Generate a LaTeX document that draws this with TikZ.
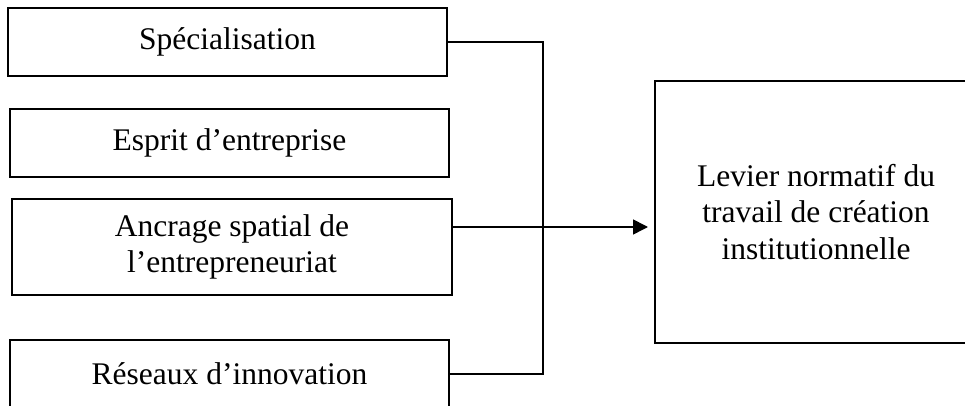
\documentclass[tikz,border=0pt]{standalone}
\usepackage{fontspec}
\setmainfont{Liberation Serif}
\usetikzlibrary{arrows.meta}
\begin{document}
\begin{tikzpicture}[y=0.50pt, x=0.50pt, yscale=-1.000000, xscale=1.000000, inner sep=0pt, outer sep=0pt,
  facteur/.style={draw=black, line width=0.800pt, minimum width=219.5pt, minimum height=34pt, align=center, font=\fontsize{15.75}{18.3}\selectfont},
  lien/.style={draw=black, line width=0.800pt, line join=miter}]
\useasboundingbox (0,0) rectangle (965,406);
\clip (0,0) rectangle (965,406);
  % facteurs
  \node[facteur] (specialisation) at (227.5,42) {Spécialisation};
  \node[facteur] (esprit) at (229.5,143) {Esprit d’entreprise};
  \node[facteur, minimum width=220pt, minimum height=48pt] (ancrage) at (232,247) {Ancrage spatial de\\l’entrepreneuriat};
  \node[facteur] (reseaux) at (229.5,374) {Réseaux d’innovation};
  % levier
  \node[facteur, minimum width=161pt, minimum height=131pt] (levier) at (816,212) {Levier normatif du\\travail de création\\institutionnelle};
  \coordinate (hub) at (543,227);
  \path[lien] (specialisation.east) -| (hub);
  \path[lien] (reseaux.east) -| (hub);
  \path[lien, -{Triangle[length=7.5pt, width=7.5pt]}, shorten >=3.5pt] (ancrage.east |- hub) -- (levier.west |- hub);
\end{tikzpicture}
\end{document}
